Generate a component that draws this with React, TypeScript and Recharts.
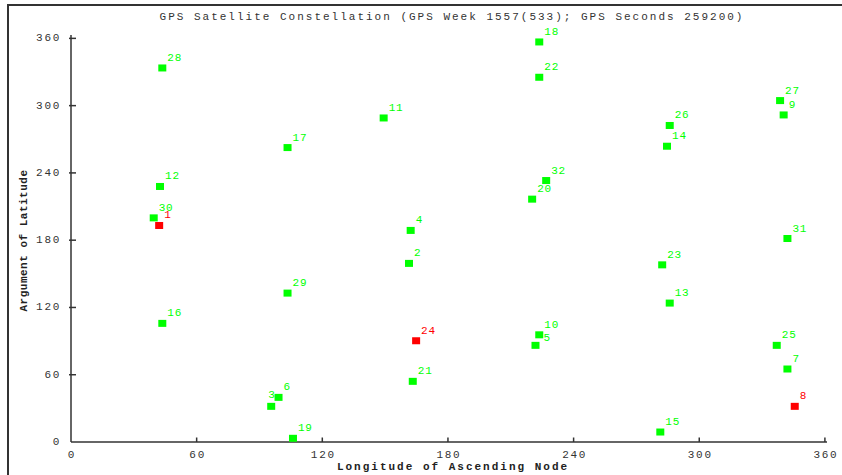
import { ScatterChart, Scatter, XAxis, YAxis } from 'recharts'

const satIds = [1, 2, 3, 4, 5, 6, 7, 8, 9, 10, 11, 12, 13, 14, 15, 16, 17, 18, 19, 20, 21, 22, 23, 24, 25, 26, 27, 28, 29, 30, 31, 32]
const longitudes = [42.1, 161.4, 95.6, 162.2, 221.8, 99.1, 342.1, 345.6, 340.3, 223.6, 149.3, 42.5, 285.9, 284.6, 281.4, 43.6, 103.4, 223.6, 106.0, 220.2, 163.2, 223.6, 282.3, 164.8, 337.0, 285.9, 338.6, 43.6, 103.4, 39.5, 342.1, 226.9]
const latArgs = [193.1, 159.3, 31.8, 188.7, 86.2, 39.8, 65.1, 31.8, 291.7, 95.6, 289.0, 227.9, 123.9, 263.8, 8.9, 105.8, 262.6, 356.8, 3.3, 216.6, 54.1, 325.3, 158.0, 90.3, 86.2, 282.3, 304.5, 333.6, 132.8, 199.9, 181.5, 233.2]
const unhealthyIds = [1, 8, 24]
const axisTicks = [0, 60, 120, 180, 240, 300, 360]

const TITLE = 'GPS Satellite Constellation (GPS Week 1557(533); GPS Seconds 259200)'
const MONO = '"Liberation Mono", "DejaVu Sans Mono", monospace'

// labels moved so they don't sit under a neighbour's marker
const labelNudge: Record<number, [number, number]> = { 3: [-8, -1], 5: [3, 3] }

const sats = satIds.map((id, i) => ({ id, lon: longitudes[i], arg: latArgs[i] }))
const healthy = sats.filter(s => !unhealthyIds.includes(s.id))
const unhealthy = sats.filter(s => unhealthyIds.includes(s.id))

function marker(color: string) {
  return (props: any) => {
    const { cx, cy, payload } = props
    const [dx, dy] = labelNudge[payload.id] ?? [0, 0]
    return (
      <g>
        <rect x={cx - 4} y={cy - 3.5} width={8} height={7} fill={color} />
        <text
          x={cx + 5 + dx}
          y={cy - 10 + dy}
          fill={color}
          fontFamily={MONO}
          fontSize={11}
          letterSpacing={0.8}
          dominantBaseline="central"
        >
          {payload.id}
        </text>
      </g>
    )
  }
}

const TICK_MARGIN = 10

function YTick(props: any) {
  const { x, y, payload } = props
  const ax = x + TICK_MARGIN
  return (
    <g>
      {payload.value !== 0 && <line x1={ax - 2} x2={ax + 5} y1={y} y2={y} stroke="#333" strokeWidth={1.5} />}
      <text x={x} y={y} textAnchor="end" dominantBaseline="central" fill="#333" fontFamily={MONO} fontSize={11} letterSpacing={1.7}>
        {payload.value}
      </text>
    </g>
  )
}

function XTick(props: any) {
  const { x, y, payload } = props
  const ay = y - 13
  return (
    <g>
      {payload.value !== 0 && <line x1={x} x2={x} y1={ay - 4.5} y2={ay} stroke="#333" strokeWidth={1.5} />}
      <text x={x + 1} y={y} textAnchor="middle" dominantBaseline="central" fill="#333" fontFamily={MONO} fontSize={11} letterSpacing={1.7}>
        {payload.value}
      </text>
    </g>
  )
}

export default function App() {
  return (
    <div style={{ position: 'absolute', left: 0, top: 0, width: 842, height: 475, overflow: 'hidden', background: '#fff' }}>
      <div
        style={{
          position: 'absolute',
          left: 7,
          top: 4,
          width: 900,
          height: 500,
          borderLeft: '2px solid #333',
          borderTop: '2px solid #333',
        }}
      />
      <div
        style={{
          position: 'absolute',
          left: 0,
          width: 904,
          top: 9,
          textAlign: 'center',
          fontFamily: MONO,
          fontSize: 11,
          letterSpacing: 2,
          color: '#333',
          lineHeight: '16px',
        }}
      >
        {TITLE}
      </div>
      <ScatterChart width={842} height={475} margin={{ top: 35, right: 15, bottom: 3, left: 11 }}>
        <XAxis
          type="number"
          dataKey="lon"
          domain={[0, 361]}
          ticks={axisTicks}
          height={30}
          stroke="#333"
          strokeWidth={1.5}
          tickLine={false}
          tickSize={0}
          tickMargin={13}
          tick={<XTick />}
          label={{
            content: ({ viewBox }: any) => (
              <text
                x={viewBox.x + viewBox.width / 2 + 4}
                y={viewBox.y + 25}
                textAnchor="middle"
                dominantBaseline="central"
                fill="#222"
                fontFamily={MONO}
                fontWeight="bold"
                fontSize={11}
                letterSpacing={2}
              >
                Longitude of Ascending Node
              </text>
            ),
          }}
        />
        <YAxis
          type="number"
          dataKey="arg"
          domain={[0, 363]}
          ticks={axisTicks}
          width={60}
          stroke="#333"
          strokeWidth={1.5}
          tickLine={false}
          tickSize={0}
          tickMargin={TICK_MARGIN}
          tick={<YTick />}
          label={{
            content: ({ viewBox }: any) => {
              const cx = viewBox.x + 13
              const cy = viewBox.y + viewBox.height / 2 + 2
              return (
                <text
                  x={cx}
                  y={cy}
                  transform={`rotate(-90 ${cx} ${cy})`}
                  textAnchor="middle"
                  dominantBaseline="central"
                  fill="#222"
                  fontFamily={MONO}
                  fontWeight="bold"
                  fontSize={11}
                  letterSpacing={0.5}
                >
                  Argument of Latitude
                </text>
              )
            },
          }}
        />
        <Scatter data={healthy} shape={marker('#00ff00')} isAnimationActive={false} />
        <Scatter data={unhealthy} shape={marker('#ff0000')} isAnimationActive={false} />
      </ScatterChart>
    </div>
  )
}
